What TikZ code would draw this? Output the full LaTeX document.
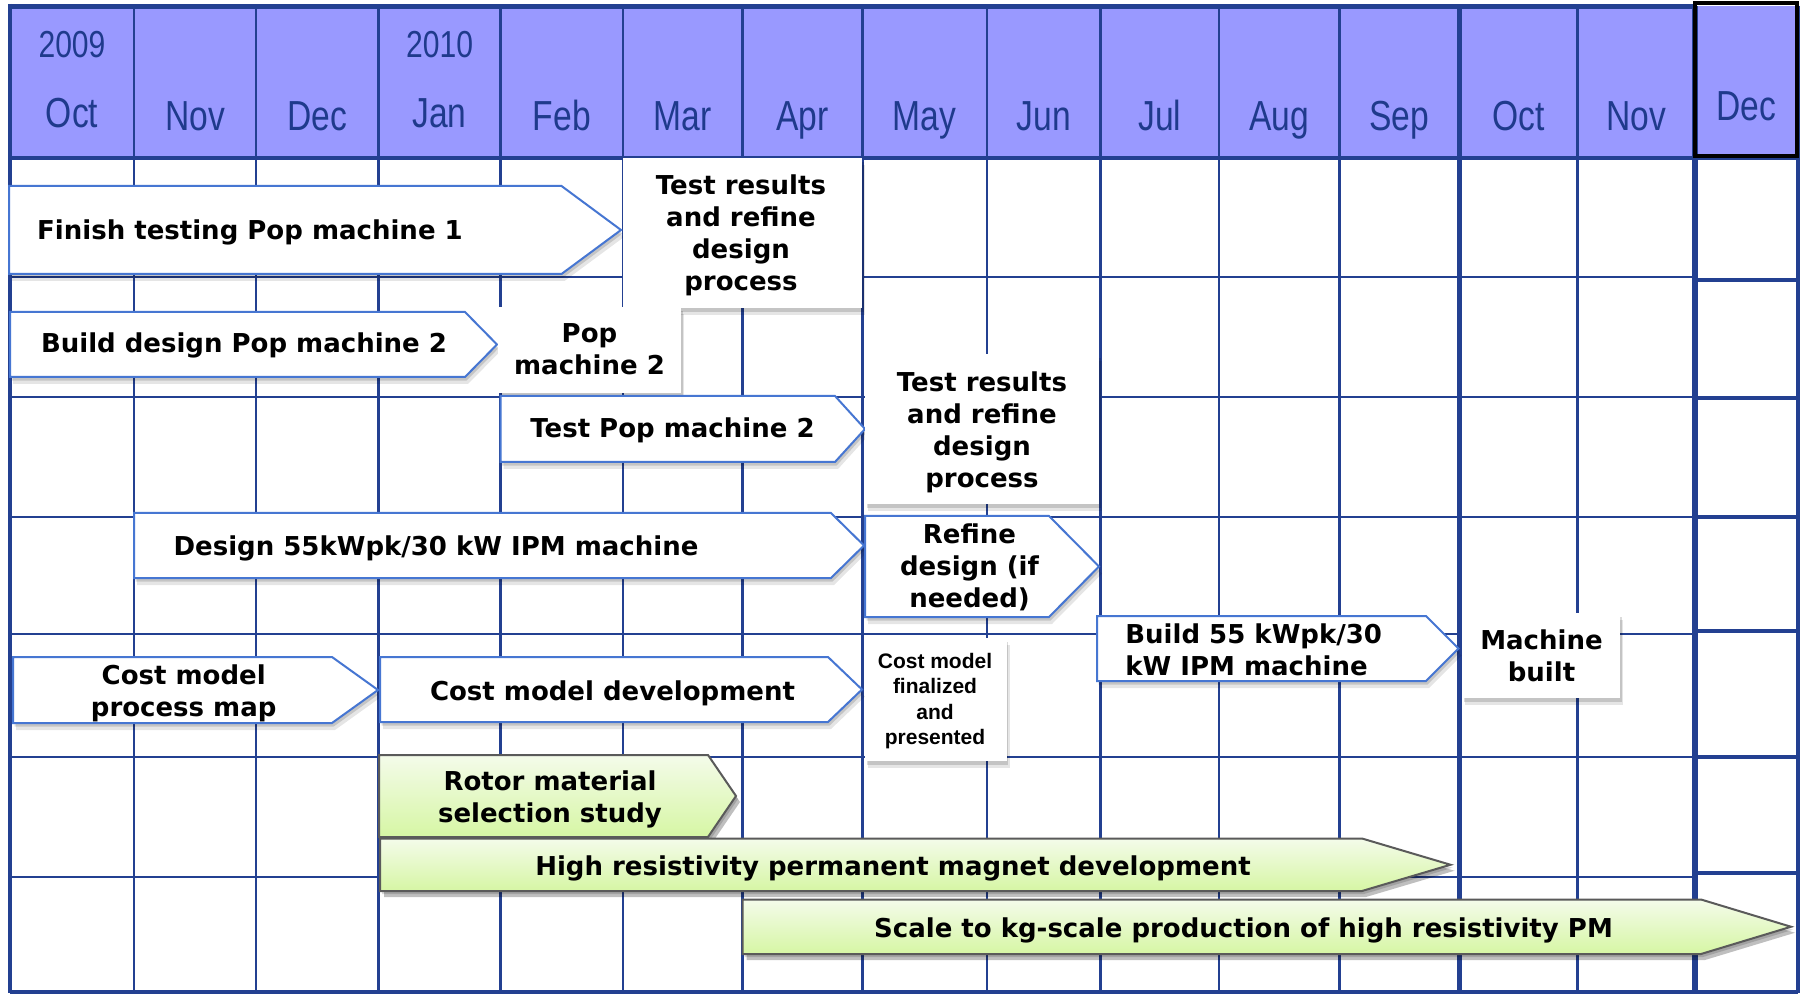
\documentclass[tikz,border=0pt]{standalone}
\usepackage{fontspec}
\setmainfont{DejaVu Sans}
\newfontfamily\hdrfont[FakeStretch=0.8]{Liberation Sans}
\newfontfamily\arialfont{Liberation Sans}
\usetikzlibrary{shadows}
\definecolor{gridc}{RGB}{35,64,145}
\definecolor{hdrfill}{RGB}{153,153,255}
\definecolor{hdrtext}{RGB}{31,58,140}
\definecolor{barblue}{RGB}{70,118,210}
\definecolor{gbord}{RGB}{90,90,90}
\definecolor{gtop}{RGB}{244,251,234}
\definecolor{gbot}{RGB}{214,246,164}
\tikzset{
  gridline/.style={draw=gridc, line width=1.3pt},
  softshadow/.style={
    preaction={fill=black, opacity=0.10, transform canvas={xshift=1.5pt,yshift=-3.5pt}},
    preaction={fill=black, opacity=0.14, transform canvas={xshift=0.8pt,yshift=-1.8pt}}},
  darkshadow/.style={
    preaction={fill=black, opacity=0.25, transform canvas={xshift=2pt,yshift=-3pt}},
    preaction={fill=black, opacity=0.15, transform canvas={xshift=1pt,yshift=-1.5pt}}},
  wbar/.style={fill=white, draw=barblue, line width=1pt, line join=miter, softshadow},
  gbar/.style={draw=gbord, line width=1pt, top color=gtop, bottom color=gbot, darkshadow},
  wbox/.style={fill=white, softshadow},
  tx/.style={font={\fontsize{13}{16}\selectfont\bfseries}, inner sep=0pt, anchor=base},
  smalltx/.style={font={\arialfont\fontsize{10.5}{12.8}\selectfont\bfseries}, inner sep=0pt, anchor=base},
  hdrtx/.style={font={\hdrfont\fontsize{21}{24}\selectfont}, text=hdrtext, inner sep=0pt, anchor=base},
  yeartx/.style={font={\hdrfont\fontsize{18.8}{22}\selectfont}, text=hdrtext, inner sep=0pt, anchor=base},
}
% arrow shape: style, x1, y1, x shoulder, x tip, y2
\newcommand\taskarrow[6]{%
  \path[#1] (#2,#3) -- (#4,#3) -- (#5,{(#3+#6)/2}) -- (#4,#6) -- (#2,#6) -- cycle;}
\newcommand\ml[1]{\begin{tabular}[t]{@{}c@{}}#1\end{tabular}}
\newcommand\mll[1]{\begin{tabular}[t]{@{}l@{}}#1\end{tabular}}
\begin{document}
\begin{tikzpicture}[x=0.5pt,y=-0.5pt]
\useasboundingbox (0,0) rectangle (1805,994);
\fill[white] (0,0) rectangle (1805,994);
% header background
\fill[hdrfill] (10,6) rectangle (1798,158);
% horizontal grid lines
\foreach \yy in {277,397,517,634,757,877}{
  \draw[gridline] (10,\yy) -- (1695,\yy);
}
\foreach \yy in {280,398,517,631,757,873}{
  \draw[gridline, line width=2pt] (1695,\yy) -- (1798,\yy);
}
% vertical grid lines
\foreach \xx in {134,256,378.5,500.7,622.8,742.5,862.3,987,1100.4,1219,1339.5,1577.2}{
  \draw[gridline] (\xx,6) -- (\xx,992);
}
\draw[gridline, line width=2.8pt] (1459.3,6) -- (1459.3,992);
\draw[gridline, line width=2.8pt] (1695,6) -- (1695,992);
\draw[gridline, line width=2.2pt] (10,4) -- (10,993);
\draw[gridline, line width=1.8pt] (1798,6) -- (1798,993);
\draw[gridline, line width=1.8pt] (10,158) -- (1798,158);
\draw[gridline, line width=2.6pt] (10,6.5) -- (1694,6.5);
\draw[gridline, line width=1.6pt] (10,992) -- (1798,992);
\draw[black, line width=2pt] (1695,3.5) rectangle (1797,156.5);
% header texts
\node[yeartx] (y2009) at (72,58) {2009};
\node[yeartx] (y2010) at (439.6,58) {2010};
\node[hdrtx] (m1) at (72,128) {Oct};
\node[hdrtx] (m2) at (195,130.5) {Nov};
\node[hdrtx] (m3) at (317.3,130.5) {Dec};
\node[hdrtx] (m4) at (439.6,128) {Jan};
\node[hdrtx] (m5) at (561.8,130.5) {Feb};
\node[hdrtx] (m6) at (682.7,130.5) {Mar};
\node[hdrtx] (m7) at (802.4,130.5) {Apr};
\node[hdrtx] (m8) at (924.7,130.5) {May};
\node[hdrtx] (m9) at (1043.7,130.5) {Jun};
\node[hdrtx] (m10) at (1159.7,130.5) {Jul};
\node[hdrtx] (m11) at (1279.3,130.5) {Aug};
\node[hdrtx] (m12) at (1399.4,130.5) {Sep};
\node[hdrtx] (m13) at (1518.3,130.5) {Oct};
\node[hdrtx] (m14) at (1636.1,130.5) {Nov};
\node[hdrtx] (m15) at (1746.5,121) {Dec};
% row 1
\taskarrow{wbar}{9}{186}{561.5}{621}{274}
\node[tx] (finish1) at (250,240) {Finish testing Pop machine 1};
\path[wbox] (622.5,158.5) rectangle (862,308);
\node[tx] (res1) at (741,195) {\ml{Test results\\and refine\\design\\process}};
% row 2
\taskarrow{wbar}{10}{312}{465}{497}{377}
\node[tx] (build2) at (244,353) {Build design Pop machine 2};
\path[wbox] (498,307) rectangle (681,393);
\node[tx] (pop2) at (589.5,343) {\ml{Pop\\machine 2}};
% row 3
\taskarrow{wbar}{500.5}{396}{835}{865}{462}
\node[tx] (test2) at (672.5,438) {Test Pop machine 2};
\path[wbox] (865,354) rectangle (1099,504);
\node[tx] (res2) at (982,391.5) {\ml{Test results\\and refine\\design\\process}};
% row 4
\taskarrow{wbar}{134}{513}{831}{864}{578}
\node[tx] (design55) at (436,555) {Design 55kWpk/30 kW IPM machine};
\taskarrow{wbar}{865}{516}{1049}{1099}{617}
\node[tx] (refine) at (969.5,544) {\ml{Refine\\design (if\\needed)}};
% row 5
\taskarrow{wbar}{1097}{616}{1426}{1458.5}{681}
\node[tx, anchor=base west] (build55) at (1125,643) {\mll{Build 55 kWpk/30\\kW IPM machine}};
\path[wbox] (1462,613) rectangle (1620,698);
\node[tx] (built) at (1541.5,649) {\ml{Machine\\built}};
\taskarrow{wbar}{13}{657}{332}{378}{723}
\node[tx] (cmpm) at (183.7,684) {\ml{Cost model\\process map}};
\taskarrow{wbar}{380}{657}{828}{862}{722}
\node[tx] (cmdev) at (612.5,700) {Cost model development};
\path[wbox] (865,638) rectangle (1006.5,761);
\node[smalltx] (cmfin) at (935,668) {\ml{Cost model\\finalized\\and\\presented}};
% row 6-7 green bars
\taskarrow{gbar}{379}{755}{708}{736}{837}
\node[tx] (rotor) at (550,790) {\ml{Rotor material\\selection study}};
\taskarrow{gbar}{380}{838.5}{1362}{1450.5}{891}
\node[tx] (hrpm) at (893,875) {High resistivity permanent magnet development};
\taskarrow{gbar}{742.5}{899.5}{1701}{1791}{954}
\node[tx] (scale) at (1243.5,937) {Scale to kg-scale production of high resistivity PM};
\end{tikzpicture}
\end{document}
